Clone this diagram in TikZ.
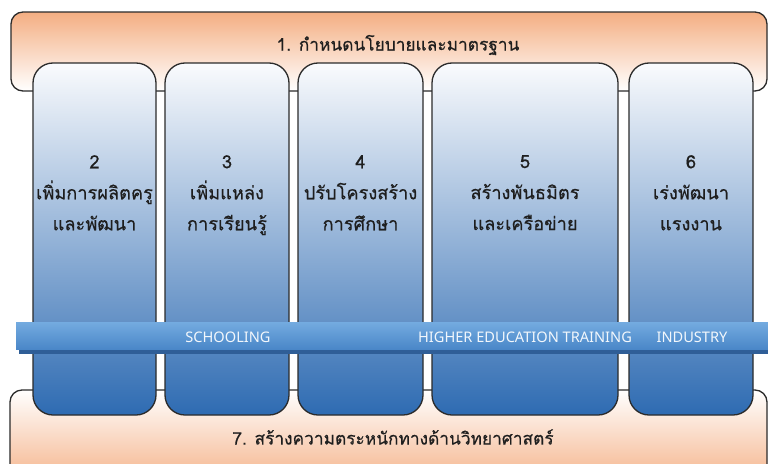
\documentclass[tikz,border=0pt]{standalone}
\usepackage{fontspec}
\setmainfont{Noto Sans}
\newfontfamily\thaifont[Script=Thai,FakeBold=0.5]{Loma}
\definecolor{orangeT}{HTML}{F4AE82}
\definecolor{outl}{HTML}{2B2B2B}
\definecolor{colTop}{HTML}{FAFBFD}
\definecolor{colMid}{HTML}{C0CEE6}
\definecolor{colBot}{HTML}{2E6BB2}
\definecolor{bandTop}{HTML}{74ABE0}
\definecolor{bandMid}{HTML}{8EC0EC}
\definecolor{bandBot}{HTML}{4A87C8}
\definecolor{bandEdge}{HTML}{2F5E97}
\definecolor{bandTxt}{HTML}{F2F7FC}
\definecolor{txt}{HTML}{1E1E1E}
\tikzset{
  bigbox/.style={draw=outl, line width=1.3pt, rounded corners=12pt},
  column/.style={draw=outl, line width=1.3pt, rounded corners=20pt,
    top color=colTop, middle color=colMid, bottom color=colBot},
  coltext/.style={align=center, anchor=north, text=txt, font=\thaifont\fontsize{18.2}{31}\selectfont, inner sep=0pt},
  bigtext/.style={text=txt, font=\thaifont\fontsize{17.3}{22}\selectfont, inner sep=0pt},
  bandtext/.style={text=bandTxt, font=\fontsize{14.6}{16}\selectfont, inner sep=0pt}
}
\begin{document}
\begin{tikzpicture}[x=1pt,y=-1pt]
\useasboundingbox (0,0) rectangle (768,463);
\fill[white] (0,0) rectangle (768,463);
% top and bottom bands
\shade[bigbox, top color=orangeT, bottom color=white] (11,12) rectangle (767,91);
\shade[bigbox, top color=white, bottom color=orangeT] (10,390) rectangle (767,490);
% columns
\shade[column] (33,63) rectangle (156,415);
\shade[column] (165,63) rectangle (289,415);
\shade[column] (298,63) rectangle (423,415);
\shade[column] (432,63) rectangle (618,415);
\shade[column] (629,63) rectangle (753,415);
% horizontal band
\fill[bandEdge] (19,325) rectangle (768,354);
\shade[top color=bandTop, middle color=bandMid, bottom color=bandBot] (16,322) rectangle (768,349);
% texts
\node[bigtext] (t1) at (398,45) {1. กำหนดนโยบายและมาตรฐาน};
\node[bigtext] (t7) at (393,437) {7. สร้างความตระหนักทางด้านวิทยาศาสตร์};
\node[coltext] (c2) at (94.5,155) {2\\เพิ่มการผลิตครู\\และพัฒนา};
\node[coltext] (c3) at (227,155) {3\\เพิ่มแหล่ง\\การเรียนรู้};
\node[coltext] (c4) at (360.5,155) {4\\ปรับโครงสร้าง\\การศึกษา};
\node[coltext] (c5) at (525,155) {5\\สร้างพันธมิตร\\และเครือข่าย};
\node[coltext] (c6) at (691,155) {6\\เร่งพัฒนา\\แรงงาน};
\node[bandtext] (b1) at (228,337) {SCHOOLING};
\node[bandtext] (b2) at (525,337) {HIGHER EDUCATION TRAINING};
\node[bandtext] (b3) at (692,337) {INDUSTRY};
\end{tikzpicture}
\end{document}
